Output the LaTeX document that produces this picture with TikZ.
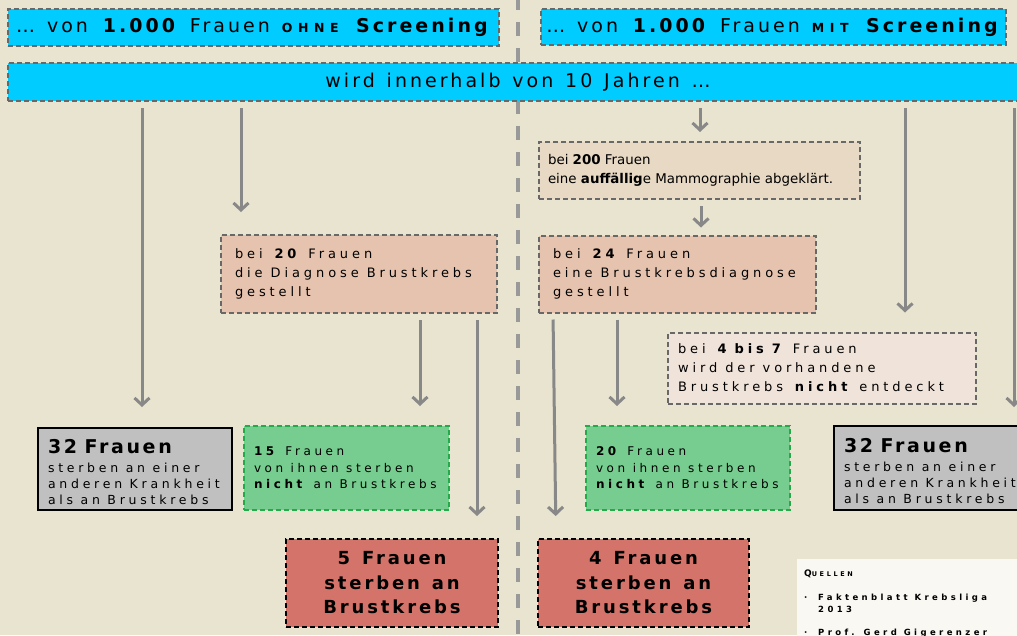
\documentclass[tikz,border=0pt]{standalone}
\usepackage{fontspec}
\setmainfont{DejaVu Sans}
\newfontfamily\weit{DejaVu Sans}[LetterSpace=30]
\newfontfamily\mittel{DejaVu Sans}[LetterSpace=16,WordSpace=1.3]
\newfontfamily\quell{DejaVu Sans}[LetterSpace=40]
\usetikzlibrary{arrows.meta,positioning}
\definecolor{hgrund}{HTML}{E9E4D0}
\definecolor{tuerkis}{HTML}{00CCFF}
\definecolor{rahmen}{HTML}{686868}
\definecolor{lachs}{HTML}{E6C3AE}
\definecolor{sand}{HTML}{E8D9C4}
\definecolor{hell}{HTML}{F0E3DA}
\definecolor{grau}{HTML}{C0C0C0}
\definecolor{gruen}{HTML}{77CC8F}
\definecolor{gruenrand}{HTML}{22AA4B}
\definecolor{rot}{HTML}{D4736A}
\definecolor{pfeilgrau}{HTML}{888888}
\definecolor{trenngrau}{HTML}{999999}
\definecolor{fastweiss}{HTML}{FAF8F3}
\newcommand{\kapit}[1]{{\fontsize{12.5}{12}\selectfont\bfseries\addfontfeature{LetterSpace=45}#1}}
\newcommand{\gross}[1]{{\fontsize{19}{21}\selectfont\bfseries\addfontfeature{LetterSpace=14}\rule{0pt}{20pt}#1}}

\begin{document}
\begin{tikzpicture}[x=1pt,y=1pt,
  kopf/.style={draw=rahmen,line width=2pt,dash pattern=on 5pt off 3pt,fill=tuerkis,
    inner sep=0pt,font=\mittel\fontsize{19}{22}\selectfont},
  feld/.style={draw=rahmen,line width=2pt,dash pattern=on 5pt off 3pt,
    inner ysep=0pt,align=flush left,font={\weit\fontsize{13}{19}\selectfont\spaceskip=8pt\relax}},
  tod/.style={draw=black,line width=2pt,fill=grau,inner xsep=10pt,inner ysep=0pt,
    align=flush left,font={\weit\fontsize{12.5}{16}\selectfont\spaceskip=7.5pt\relax}},
  nicht/.style={draw=gruenrand,line width=2pt,dash pattern=on 5pt off 3pt,fill=gruen,
    inner xsep=10pt,inner ysep=0pt,align=flush left,
    font={\weit\fontsize{12}{16.5}\selectfont\spaceskip=7.5pt\relax}},
  krebs/.style={draw=black,line width=2pt,dash pattern=on 5pt off 3pt,fill=rot,
    inner sep=0pt,minimum height=88pt,align=center,
    font=\mittel\bfseries\fontsize{18}{24.5}\selectfont},
  pfeil/.style={draw=pfeilgrau,line width=3pt,shorten <=6pt,
    -{Straight Barb[length=7pt,width=15pt]}}]
\useasboundingbox (0,0) rectangle (1017,-635);
\clip (0,0) rectangle (1017,-635);
\fill[hgrund] (0,0) rectangle (1017,-635);
\draw[trenngrau,line width=4pt,dash pattern=on 14pt off 12pt] (518,4) -- (518,-640);

\node[kopf,minimum width=491pt,minimum height=37pt] (ohne) at (253.5,-27.5)
  {… von \textbf{1.000} Frauen \kapit{OHNE} \textbf{Screening}};
\node[kopf,minimum width=465pt,minimum height=36pt] (mit) at (773.5,-27)
  {… von \textbf{1.000} Frauen \kapit{MIT} \textbf{Screening}};
\node[kopf,minimum width=1020pt,minimum height=38pt] (zeit) at (518,-82)
  {wird innerhalb von 10 Jahren …};

\node[feld,fill=lachs,inner xsep=14pt,text width=248pt,minimum height=78pt] (d20) at (359,-274)
  {bei \textbf{20} Frauen\\die Diagnose Brustkrebs\\gestellt};
\node[feld,fill=sand,inner xsep=9pt,text width=303pt,minimum height=57pt,
  font=\fontsize{13.4}{19}\selectfont] (a200) at (699.5,-170.5)
  {bei \textbf{200} Frauen\\eine \textbf{auffällig}e Mammographie abgeklärt.};
\node[feld,fill=lachs,inner xsep=14pt,text width=249pt,minimum height=77pt] (d24) at (677.5,-274)
  {bei \textbf{24} Frauen\\eine Brustkrebsdiagnose\\gestellt};
\node[feld,fill=hell,inner xsep=10pt,text width=288pt,minimum height=71pt] (n47) at (822,-368)
  {bei \textbf{4 bis 7} Frauen\\wird der vorhandene\\Brustkrebs \textbf{nicht} entdeckt};

\node[tod,text width=174pt,minimum height=82pt] (and32L) at (135,-469)
  {\gross{32 Frauen}\\[3pt]sterben an einer\\anderen Krankheit\\als an Brustkrebs};
\node[nicht,text width=185pt,minimum height=84pt] (nicht15) at (346.5,-468)
  {\textbf{15} Frauen\\von ihnen sterben\\\textbf{nicht} an Brustkrebs};
\node[nicht,text width=184pt,minimum height=84pt] (nicht20) at (688,-468)
  {\textbf{20} Frauen\\von ihnen sterben\\\textbf{nicht} an Brustkrebs};
\node[tod,text width=176pt,minimum height=84pt] (and32R) at (932,-468)
  {\gross{32 Frauen}\\[3pt]sterben an einer\\anderen Krankheit\\als an Brustkrebs};

\node[krebs,minimum width=212pt] (krebs5) at (392,-583) {5 Frauen\\sterben an\\Brustkrebs};
\node[krebs,minimum width=211pt] (krebs4) at (643.5,-583) {4 Frauen\\sterben an\\Brustkrebs};

\node[fill=fastweiss,anchor=north west,inner xsep=7pt,inner ysep=11pt,text width=215pt,
  align=flush left,font={\quell\bfseries\fontsize{8.5}{12}\selectfont\spaceskip=7pt\relax}] (quellen) at (797,-559)
  {{\fontsize{9}{9}\selectfont Q}{\fontsize{6.5}{9}\selectfont UELLEN}\\[12pt]
   \makebox[14pt][l]{·}Faktenblatt Krebsliga\\\hspace*{14pt}2013\\[11pt]
   \makebox[14pt][l]{·}Prof. Gerd Gigerenzer\\[20pt]};

\draw[pfeil,shorten >=20pt] (142,0 |- zeit.south) -- (142,0 |- and32L.north);
\draw[pfeil,shorten >=22pt] (241,0 |- zeit.south) -- (241,0 |- d20.north);
\draw[pfeil,shorten >=9pt] (700,0 |- zeit.south) -- (700,0 |- a200.north);
\draw[pfeil,shorten >=19pt] (905,0 |- zeit.south) -- (905,0 |- n47.north);
\draw[pfeil,shorten >=18pt] (1014,0 |- zeit.south) -- (1014,0 |- and32R.north);
\draw[pfeil,shorten >=7pt] (701,0 |- a200.south) -- (701,0 |- d24.north);
\draw[pfeil,shorten >=19pt] (420,0 |- d20.south) -- (420,0 |- nicht15.north);
\draw[pfeil,shorten >=22pt] (477,0 |- d20.south) -- (477,0 |- krebs5.north);
\draw[pfeil,shorten >=22pt] (553,0 |- d24.south) -- (556,0 |- krebs4.north);
\draw[pfeil,shorten >=19pt] (617,0 |- d24.south) -- (617,0 |- nicht20.north);
\end{tikzpicture}
\end{document}
